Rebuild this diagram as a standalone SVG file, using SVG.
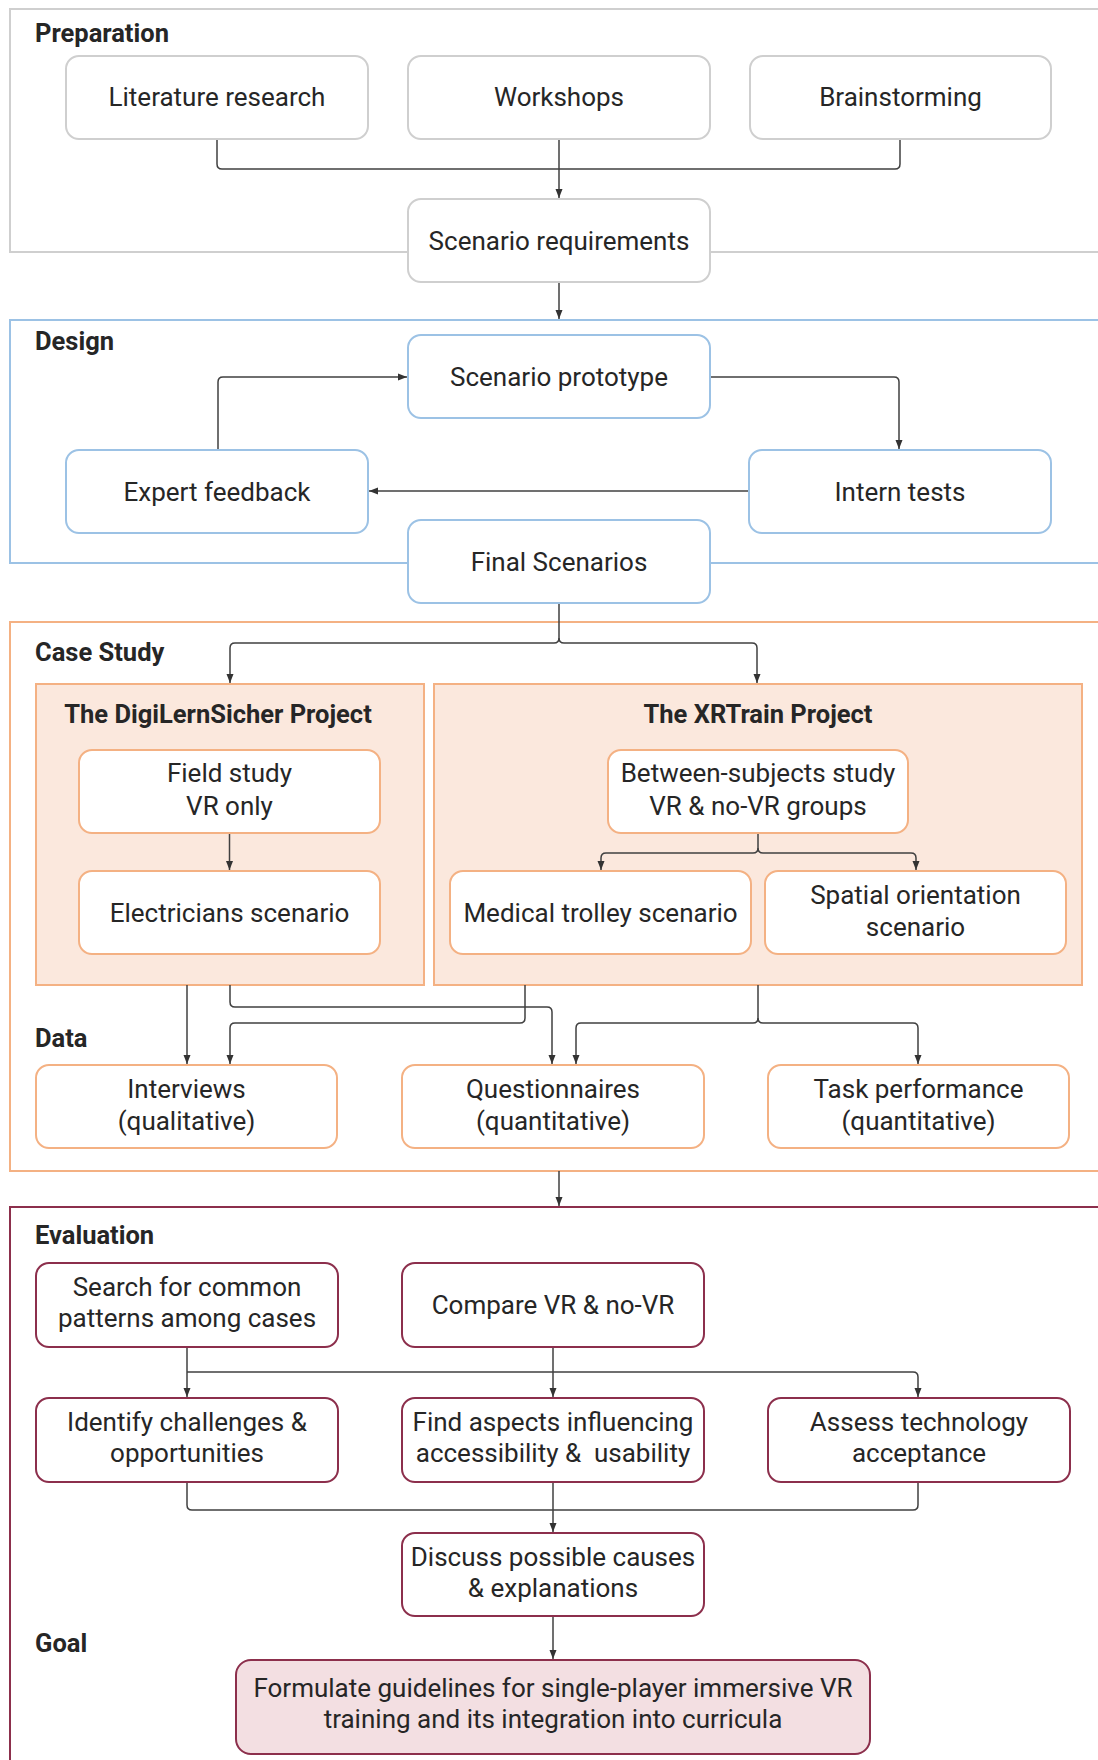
<svg xmlns="http://www.w3.org/2000/svg" width="1098" height="1760" viewBox="0 0 1098 1760">
<style>
text{font-family:Roboto,"Liberation Sans",sans-serif;fill:#262626}
.t{font-size:26px;text-anchor:middle}
.h{font-size:25.5px;font-weight:bold}
.hc{font-size:25.5px;font-weight:bold;text-anchor:middle}
.sec{fill:none;stroke-width:2}
.nd{stroke-width:2}
.p{fill:#fff;stroke:#cfcfcf}
.d{fill:#fff;stroke:#9cc2e5}
.c{fill:#fff;stroke:#f4b183}
.e{fill:#fff;stroke:#8c2f4c}
.grp{fill:#fbe8dd;stroke:#f4b183;stroke-width:2}
.goal{fill:#f3dfe2;stroke:#8c2f4c;stroke-width:2}
.cn path{fill:none;stroke:#404040;stroke-width:1.5}
</style>
<defs>
<marker id="ar" markerUnits="userSpaceOnUse" markerWidth="10" markerHeight="10" viewBox="0 0 10 10" refX="9" refY="5" orient="auto">
<path d="M0,1.5 L9,5 L0,8.5 Z" fill="#333"/>
</marker>
</defs>
<rect width="1098" height="1760" fill="#fff"/>

<!-- section frames -->
<g id="sec-prep"><rect class="sec" x="10" y="9" width="1100" height="243" stroke="#cfcfcf"/><text class="h" x="35" y="42">Preparation</text></g>
<g id="sec-design"><rect class="sec" x="10" y="320" width="1100" height="243" stroke="#9cc2e5"/><text class="h" x="35" y="350">Design</text></g>
<g id="sec-case"><rect class="sec" x="10" y="622" width="1100" height="549" stroke="#f4b183"/><text class="h" x="35" y="661">Case Study</text><text class="h" x="35" y="1047">Data</text></g>
<g id="sec-eval"><rect class="sec" x="10" y="1207" width="1100" height="600" stroke="#8c2f4c"/><text class="h" x="35" y="1244">Evaluation</text><text class="h" x="35" y="1652">Goal</text></g>

<g id="grp-digi"><rect class="grp" x="36" y="684" width="388" height="301"/><text class="hc" x="218" y="723">The DigiLernSicher Project</text></g>
<g id="grp-xr"><rect class="grp" x="434" y="684" width="648" height="301"/><text class="hc" x="758" y="723">The XRTrain Project</text></g>

<!-- connectors -->
<g id="connectors" class="cn">
<path d="M217,139 V164 Q217,169 222,169 H895 Q900,169 900,164 V139"/>
<path d="M559,139 V198" marker-end="url(#ar)"/>
<path d="M559,282 V319" marker-end="url(#ar)"/>
<path d="M218,450 V382 Q218,377 223,377 H407" marker-end="url(#ar)"/>
<path d="M710,377 H894 Q899,377 899,382 V449" marker-end="url(#ar)"/>
<path d="M749,491 H369" marker-end="url(#ar)"/>
<path d="M559,604 V638 Q559,643 554,643 H235 Q230,643 230,648 V683" marker-end="url(#ar)"/>
<path d="M559,638 Q559,643 564,643 H752 Q757,643 757,648 V683" marker-end="url(#ar)"/>
<path d="M229.5,834 V870" marker-end="url(#ar)"/>
<path d="M758,834 V848 Q758,853 753,853 H606 Q601,853 601,858 V870" marker-end="url(#ar)"/>
<path d="M758,848 Q758,853 763,853 H911 Q916,853 916,858 V870" marker-end="url(#ar)"/>
<path d="M187,985 V1064" marker-end="url(#ar)"/>
<path d="M230,985 V1002 Q230,1007 235,1007 H547 Q552,1007 552,1012 V1064" marker-end="url(#ar)"/>
<path d="M525,985 V1018 Q525,1023 520,1023 H235 Q230,1023 230,1028 V1064" marker-end="url(#ar)"/>
<path d="M758,985 V1018 Q758,1023 753,1023 H581 Q576,1023 576,1028 V1064" marker-end="url(#ar)"/>
<path d="M758,1018 Q758,1023 763,1023 H913 Q918,1023 918,1028 V1064" marker-end="url(#ar)"/>
<path d="M559,1171 V1206" marker-end="url(#ar)"/>
<path d="M187,1347 V1397" marker-end="url(#ar)"/>
<path d="M553,1347 V1397" marker-end="url(#ar)"/>
<path d="M187,1372 H913 Q918,1372 918,1377 V1397" marker-end="url(#ar)"/>
<path d="M187,1482 V1505 Q187,1510 192,1510 H913 Q918,1510 918,1505 V1482"/>
<path d="M553,1482 V1532" marker-end="url(#ar)"/>
<path d="M553,1616 V1659" marker-end="url(#ar)"/>
</g>

<!-- Preparation nodes -->
<g id="n-lit"><rect class="nd p" x="66" y="56" width="302" height="83" rx="13"/><text class="t" x="217" y="106">Literature research</text></g>
<g id="n-work"><rect class="nd p" x="408" y="56" width="302" height="83" rx="13"/><text class="t" x="559" y="106">Workshops</text></g>
<g id="n-brain"><rect class="nd p" x="750" y="56" width="301" height="83" rx="13"/><text class="t" x="900.5" y="106">Brainstorming</text></g>
<g id="n-req"><rect class="nd p" x="408" y="199" width="302" height="83" rx="13"/><text class="t" x="559" y="249.5">Scenario requirements</text></g>

<!-- Design nodes -->
<g id="n-proto"><rect class="nd d" x="408" y="335" width="302" height="83" rx="13"/><text class="t" x="559" y="385.5">Scenario prototype</text></g>
<g id="n-expert"><rect class="nd d" x="66" y="450" width="302" height="83" rx="13"/><text class="t" x="217" y="500.5">Expert feedback</text></g>
<g id="n-intern"><rect class="nd d" x="749" y="450" width="302" height="83" rx="13"/><text class="t" x="900" y="500.5">Intern tests</text></g>
<g id="n-final"><rect class="nd d" x="408" y="520" width="302" height="83" rx="13"/><text class="t" x="559" y="570.5">Final Scenarios</text></g>

<!-- Case study nodes -->
<g id="n-field"><rect class="nd c" x="79" y="750" width="301" height="83" rx="13"/><text class="t" x="229.5" y="781.5">Field study</text><text class="t" x="229.5" y="814.5">VR only</text></g>
<g id="n-elec"><rect class="nd c" x="79" y="871" width="301" height="83" rx="13"/><text class="t" x="229.5" y="921.5">Electricians scenario</text></g>
<g id="n-between"><rect class="nd c" x="608" y="750" width="300" height="83" rx="13"/><text class="t" x="758" y="781.5">Between-subjects study</text><text class="t" x="758" y="814.5">VR &amp; no-VR groups</text></g>
<g id="n-medical"><rect class="nd c" x="450" y="871" width="301" height="83" rx="13"/><text class="t" x="600.5" y="921.5">Medical trolley scenario</text></g>
<g id="n-spatial"><rect class="nd c" x="765" y="871" width="301" height="83" rx="13"/><text class="t" x="915.5" y="903.5">Spatial orientation</text><text class="t" x="915.5" y="935.5">scenario</text></g>

<!-- Data nodes -->
<g id="n-interviews"><rect class="nd c" x="36" y="1065" width="301" height="83" rx="13"/><text class="t" x="186.5" y="1097.5">Interviews</text><text class="t" x="186.5" y="1129.5">(qualitative)</text></g>
<g id="n-quest"><rect class="nd c" x="402" y="1065" width="302" height="83" rx="13"/><text class="t" x="553" y="1097.5">Questionnaires</text><text class="t" x="553" y="1129.5">(quantitative)</text></g>
<g id="n-task"><rect class="nd c" x="768" y="1065" width="301" height="83" rx="13"/><text class="t" x="918.5" y="1097.5">Task performance</text><text class="t" x="918.5" y="1129.5">(quantitative)</text></g>

<!-- Evaluation nodes -->
<g id="n-search"><rect class="nd e" x="36" y="1263" width="302" height="84" rx="13"/><text class="t" x="187" y="1296">Search for common</text><text class="t" x="187" y="1327">patterns among cases</text></g>
<g id="n-compare"><rect class="nd e" x="402" y="1263" width="302" height="84" rx="13"/><text class="t" x="553" y="1314">Compare VR &amp; no-VR</text></g>
<g id="n-identify"><rect class="nd e" x="36" y="1398" width="302" height="84" rx="13"/><text class="t" x="187" y="1431">Identify challenges &amp;</text><text class="t" x="187" y="1462">opportunities</text></g>
<g id="n-find"><rect class="nd e" x="402" y="1398" width="302" height="84" rx="13"/><text class="t" x="553" y="1431">Find aspects influencing</text><text class="t" x="553" y="1462" style="white-space:pre">accessibility &amp;  usability</text></g>
<g id="n-assess"><rect class="nd e" x="768" y="1398" width="302" height="84" rx="13"/><text class="t" x="919" y="1431">Assess technology</text><text class="t" x="919" y="1462">acceptance</text></g>
<g id="n-discuss"><rect class="nd e" x="402" y="1533" width="302" height="83" rx="13"/><text class="t" x="553" y="1565.5">Discuss possible causes</text><text class="t" x="553" y="1597">&amp; explanations</text></g>

<!-- Goal -->
<g id="n-goal"><rect class="goal" x="236" y="1660" width="634" height="94" rx="15"/><text class="t" x="553" y="1697">Formulate guidelines for single-player immersive VR</text><text class="t" x="553" y="1728">training and its integration into curricula</text></g>
</svg>
